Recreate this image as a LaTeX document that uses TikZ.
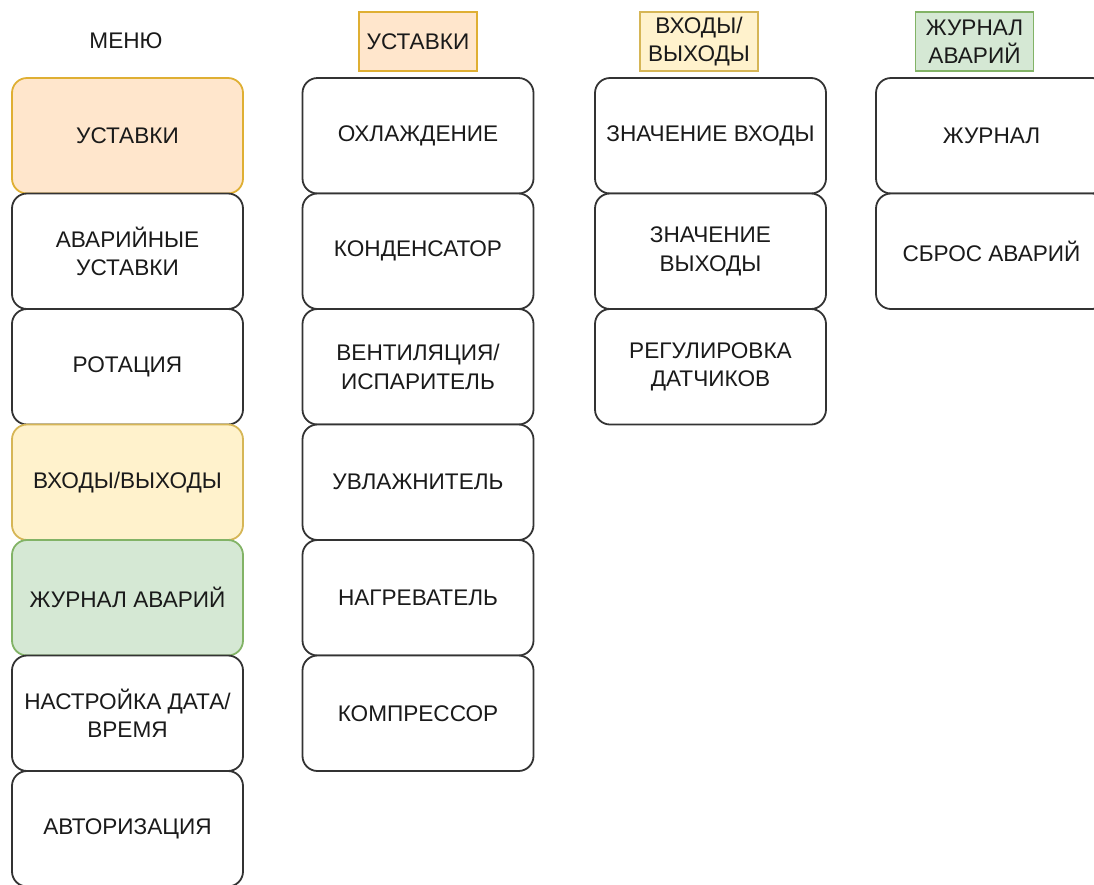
\documentclass[tikz,border=0pt]{standalone}
\usepackage{fontspec}
\setmainfont{Liberation Sans}
\definecolor{orfill}{HTML}{FFE6CC}\definecolor{ordraw}{HTML}{D79B00}
\definecolor{yefill}{HTML}{FFF2CC}\definecolor{yedraw}{HTML}{D6B656}
\definecolor{grfill}{HTML}{D5E8D4}\definecolor{grdraw}{HTML}{82B366}
\definecolor{edge}{HTML}{333333}
\definecolor{txt}{HTML}{1A1A1A}
\begin{document}
\begin{tikzpicture}[x=1pt,y=-1pt,
  every node/.style={text=txt, font=\fontsize{22.6}{28.5}\selectfont, align=center, inner sep=0pt},
  item/.style={draw=edge, fill=white, line width=1.8pt, rounded corners=15pt, minimum width=231pt, minimum height=115.5pt},
  hdr/.style={line width=1.8pt, minimum width=118pt, minimum height=59pt},
  orange/.style={fill=orfill, draw=ordraw!80},
  yellow/.style={fill=yefill, draw=yedraw},
  green/.style={fill=grfill, draw=grdraw}]
\useasboundingbox (0,0) rectangle (1094,884);
\clip (0,0) rectangle (1094,884);
% headers
\node (hmenu) at (126,41) {МЕНЮ};
\node[hdr, orange] (hset) at (418,41.5) {УСТАВКИ};
\node[hdr, yellow] (hio) at (699,41.5) {ВХОДЫ/\\ВЫХОДЫ};
\node[hdr, green] (hlog) at (974.5,41.5) {ЖУРНАЛ\\АВАРИЙ};
% column 1
\node[item, orange] (m1) at (127.5,135.75) {УСТАВКИ};
\node[item] (m2) at (127.5,251.25) {АВАРИЙНЫЕ\\УСТАВКИ};
\node[item] (m3) at (127.5,366.75) {РОТАЦИЯ};
\node[item, yellow] (m4) at (127.5,482.25) {ВХОДЫ/ВЫХОДЫ};
\node[item, green] (m5) at (127.5,597.75) {ЖУРНАЛ АВАРИЙ};
\node[item] (m6) at (127.5,713.25) {НАСТРОЙКА ДАТА/\\ВРЕМЯ};
\node[item] (m7) at (127.5,828.75) {АВТОРИЗАЦИЯ};
% column 2
\node[item] (s1) at (418,135.75) {ОХЛАЖДЕНИЕ};
\node[item] (s2) at (418,251.25) {КОНДЕНСАТОР};
\node[item] (s3) at (418,366.75) {ВЕНТИЛЯЦИЯ/\\ИСПАРИТЕЛЬ};
\node[item] (s4) at (418,482.25) {УВЛАЖНИТЕЛЬ};
\node[item] (s5) at (418,597.75) {НАГРЕВАТЕЛЬ};
\node[item] (s6) at (418,713.25) {КОМПРЕССОР};
% column 3
\node[item] (i1) at (710.5,135.75) {ЗНАЧЕНИЕ ВХОДЫ};
\node[item] (i2) at (710.5,251.25) {ЗНАЧЕНИЕ\\ВЫХОДЫ};
\node[item] (i3) at (710.5,366.75) {РЕГУЛИРОВКА\\ДАТЧИКОВ};
% column 4
\node[item] (l1) at (991.5,135.75) {ЖУРНАЛ};
\node[item] (l2) at (991.5,251.25) {СБРОС АВАРИЙ};
\end{tikzpicture}
\end{document}
